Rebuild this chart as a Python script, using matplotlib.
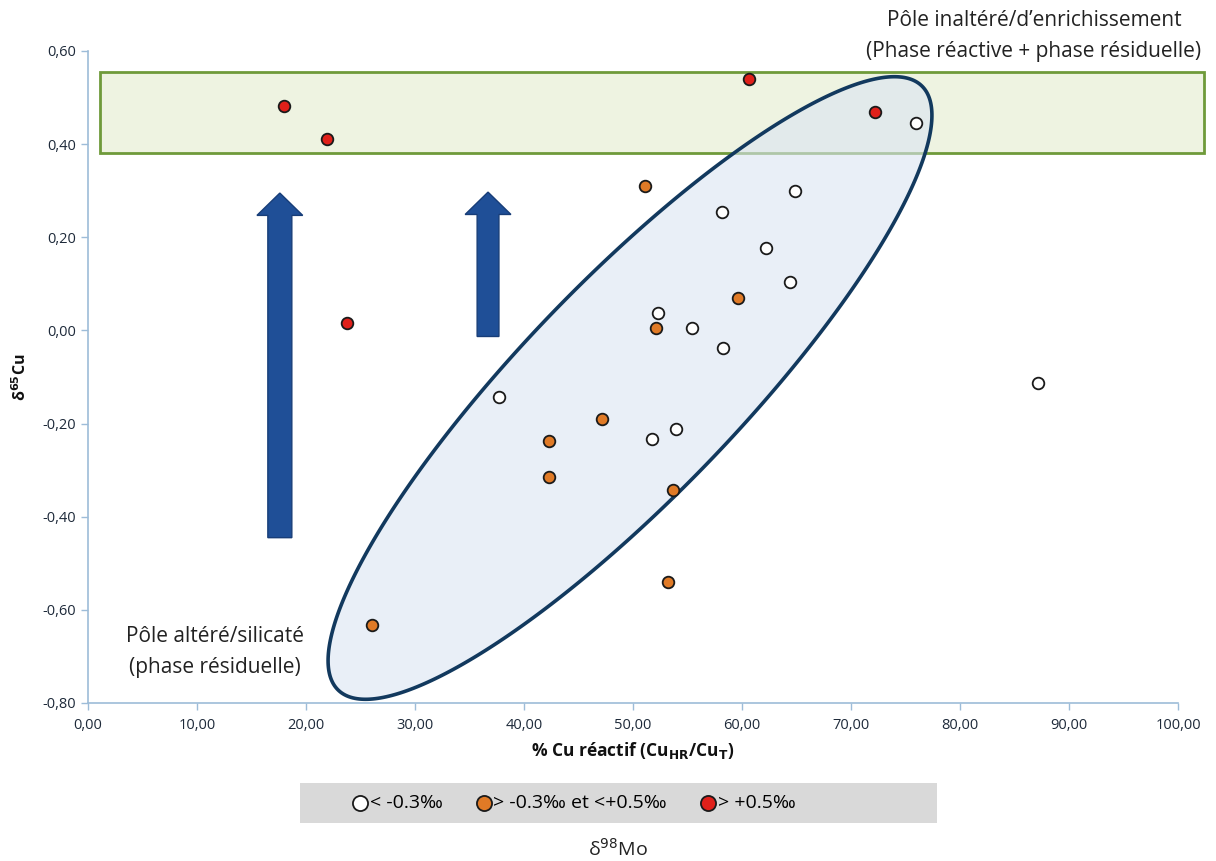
import numpy as np
import matplotlib
matplotlib.use("Agg")
import matplotlib.pyplot as plt
from matplotlib.patches import Rectangle, Polygon, FancyArrow

plt.rcParams['font.family'] = ['Open Sans', 'DejaVu Sans']

# ---- data ----
white_x = [76.0, 64.9, 58.2, 62.2, 64.4, 52.3, 55.4, 58.3, 37.7, 53.9, 51.7, 87.2]
white_y = [0.445, 0.300, 0.254, 0.178, 0.105, 0.037, 0.006, -0.037, -0.142, -0.211, -0.234, -0.112]
orange_x = [51.1, 52.1, 59.6, 47.2, 42.3, 42.3, 53.7, 53.2, 26.1]
orange_y = [0.310, 0.006, 0.069, -0.191, -0.237, -0.314, -0.342, -0.540, -0.632]
red_x = [18.0, 21.9, 23.8, 60.6, 72.2]
red_y = [0.482, 0.410, 0.017, 0.540, 0.470]

legend_labels = ["< -0.3\u2030", "> -0.3\u2030 et <+0.5\u2030", "> +0.5\u2030"]
x_ticks = [0, 10, 20, 30, 40, 50, 60, 70, 80, 90, 100]
y_ticks = [-0.8, -0.6, -0.4, -0.2, 0.0, 0.2, 0.4, 0.6]

W, H = 1216, 861
fig = plt.figure(figsize=(W / 100, H / 100), dpi=100)
ax = fig.add_axes([88 / W, 1 - 703 / H, (1178 - 88) / W, (703 - 51) / H])
ax.set_xlim(0, 100)
ax.set_ylim(-0.8, 0.6)

axis_col = '#9dbcd8'
for s in ['top', 'right']:
    ax.spines[s].set_visible(False)
for s in ['left', 'bottom']:
    ax.spines[s].set_color(axis_col)
    ax.spines[s].set_linewidth(1.2)
ax.tick_params(axis='both', colors=axis_col, length=5, width=1.0, direction='out',
               labelcolor='#1e2a3a', labelsize=10.5)
ax.tick_params(axis='x', pad=6)
ax.set_xticks(x_ticks)
ax.set_xticklabels([f"{v:.2f}".replace('.', ',') for v in x_ticks])
ax.set_yticks(y_ticks)
ax.set_yticklabels([f"{v:.2f}".replace('.', ',') for v in y_ticks])

ax.set_xlabel("% Cu réactif (Cu$_{\\mathbf{HR}}$/Cu$_{\\mathbf{T}}$)", fontsize=12.5,
              fontweight='bold', labelpad=5, color='#111111')
ax.set_ylabel("δ$^{\\mathbf{65}}$Cu", fontsize=11.5, fontweight='bold', labelpad=9,
              color='#111111')

# green rectangle (pole inaltéré)
rect = Rectangle((1.1, 0.38), 101.3, 0.175, facecolor='#eef3e1', edgecolor='#6f9a3a',
                 linewidth=2.0, clip_on=False, zorder=1)
ax.add_patch(rect)

# ellipse defined in pixel geometry, converted to data coords
px_per_x = (1178 - 88) / 100.0
px_per_y = (703 - 51) / 1.4
cx, cy = 630, 388
a, b, ang = 420, 108, np.deg2rad(46)
t = np.linspace(0, 2 * np.pi, 400)
px = cx + a * np.cos(t) * np.cos(ang) + b * np.sin(t) * np.sin(ang)
py = cy - a * np.cos(t) * np.sin(ang) + b * np.sin(t) * np.cos(ang)
ex = (px - 88) / px_per_x
ey = 0.6 - (py - 51) / px_per_y
ell_fill = Polygon(np.column_stack([ex, ey]), closed=True, facecolor='#dbe5f3',
                   alpha=0.6, edgecolor='none', zorder=2)
ell_edge = Polygon(np.column_stack([ex, ey]), closed=True, facecolor='none',
                   edgecolor='#12395e', linewidth=2.6, zorder=3)
ax.add_patch(ell_fill)
ax.add_patch(ell_edge)

# blue arrows
arrow_col = '#1f4f97'
ax.add_patch(FancyArrow(17.6, -0.445, 0, 0.74 - 0.048, width=2.2, head_width=4.2,
                        head_length=0.048, length_includes_head=False,
                        facecolor=arrow_col, edgecolor='#173d78', linewidth=1, zorder=2))
ax.add_patch(FancyArrow(36.7, -0.013, 0, 0.31 - 0.048, width=2.0, head_width=4.2,
                        head_length=0.048, length_includes_head=False,
                        facecolor=arrow_col, edgecolor='#173d78', linewidth=1, zorder=2))

# points
mk = dict(s=70, linewidths=1.3, edgecolors='#1a1a1a', zorder=5)
ax.scatter(white_x, white_y, c='white', label=legend_labels[0], **mk)
ax.scatter(orange_x, orange_y, c='#e07a26', label=legend_labels[1], **mk)
ax.scatter(red_x, red_y, c='#e0201a', label=legend_labels[2], **mk)

# annotations
txt = dict(ha='center', va='center', fontsize=15, color='#222222')
fig.text(1034 / W, 1 - 21 / H, "Pôle inaltéré/d\u2019enrichissement", **txt)
fig.text(1034 / W, 1 - 51 / H, "(Phase réactive + phase résiduelle)", **txt)
fig.text(215 / W, 1 - 637 / H, "Pôle altéré/silicaté", **txt)
fig.text(215 / W, 1 - 667 / H, "(phase résiduelle)", **txt)

# legend box
ax.add_patch(Rectangle((300 / W, 1 - 823 / H), 637 / W, 40 / H,
                       transform=fig.transFigure, facecolor='#d9d9d9',
                       edgecolor='none', zorder=0, clip_on=False))
leg = ax.legend(loc='center', bbox_to_anchor=(573 / W, 1 - 803 / H),
                bbox_transform=fig.transFigure, ncol=3, frameon=False,
                fontsize=14, handletextpad=0.0, columnspacing=1.6,
                markerscale=1.3, handlelength=1.0)
leg.set_zorder(10)
fig.text(618 / W, 1 - 849 / H, "δ$^{98}$Mo", ha='center', va='center', fontsize=14,
         color='#222222')

fig.savefig("out.png", dpi=100)
